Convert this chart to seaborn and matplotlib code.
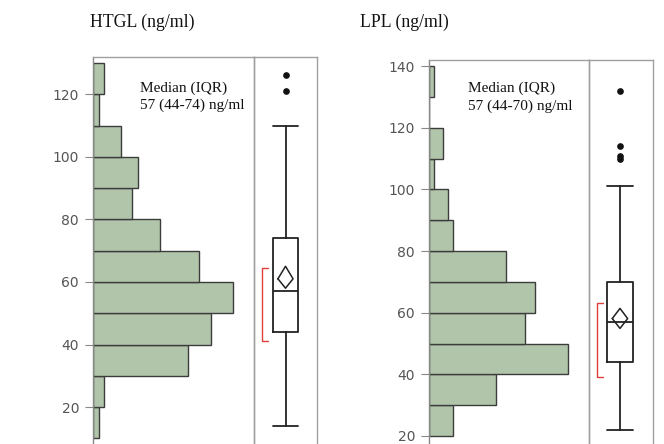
import matplotlib
matplotlib.use("Agg")
import matplotlib.pyplot as plt
import seaborn as sns
import numpy as np
import pandas as pd

# ---------------- data ----------------
htgl_edges = [10, 20, 30, 40, 50, 60, 70, 80, 90, 100, 110, 120, 130]
htgl_counts = [1, 2, 17, 21, 25, 19, 12, 7, 8, 5, 1, 2]
htgl_box = dict(whislo=14, q1=44, med=57, q3=74, whishi=110, fliers=[121, 126])
htgl_mean = 61
htgl_ci = [58, 65]
htgl_shortest = [41, 64.5]

lpl_edges = [20, 30, 40, 50, 60, 70, 80, 90, 100, 110, 120, 130, 140]
lpl_counts = [5, 14, 29, 20, 22, 16, 5, 4, 1, 3, 0, 1]
lpl_box = dict(whislo=22, q1=44, med=57, q3=70, whishi=101, fliers=[110, 111, 114, 132])
lpl_mean = 58.1
lpl_ci = [54.9, 61.4]
lpl_shortest = [39, 63]

titles = ["HTGL (ng/ml)", "LPL (ng/ml)"]
notes = [["Median (IQR)", "57 (44-74) ng/ml"], ["Median (IQR)", "57 (44-70) ng/ml"]]
yticks_htgl = [20, 40, 60, 80, 100, 120]
yticks_lpl = [20, 40, 60, 80, 100, 120, 140]

# ---------------- style ----------------
sns.set_style("white")
plt.rcParams['font.family'] = ['DejaVu Sans']

W, H = 664, 444
fig = plt.figure(figsize=(W / 100, H / 100), dpi=100)

BAR_FILL = "#b1c5ab"
BAR_EDGE = "#3c3c3c"
FRAME = "#a0a0a0"
TICKC = "#555555"
SERIF = "Liberation Serif"


def px_axes(x0, y0, x1, y1):
    return fig.add_axes([x0 / W, 1 - y1 / H, (x1 - x0) / W, (y1 - y0) / H])


panels = [
    dict(hist=(93, 57, 254, 444), box=(254, 57, 317, 444), ylim=(8.2, 131.9),
         edges=htgl_edges, counts=htgl_counts, xmax=161 / 5.6, stats=htgl_box,
         mean=htgl_mean, ci=htgl_ci, short=htgl_shortest, yticks=yticks_htgl,
         bx=0.0, title=titles[0], tx=142, note=notes[0], nx=(140 - 93) / 161,
         ny=[88, 105]),
    dict(hist=(429, 60, 589, 444), box=(589, 60, 653, 444), ylim=(17.4, 142.0),
         edges=lpl_edges, counts=lpl_counts, xmax=160 / 4.8, stats=lpl_box,
         mean=lpl_mean, ci=lpl_ci, short=lpl_shortest, yticks=yticks_lpl,
         bx=-0.016, title=titles[1], tx=404, note=notes[1], nx=(468 - 429) / 160,
         ny=[88, 106]),
]

for p in panels:
    axh = px_axes(*p["hist"])
    axb = px_axes(*p["box"])
    axb.set_facecolor("none")
    edges = list(p["edges"])
    centers = [(a + b) / 2 for a, b in zip(edges[:-1], edges[1:])]
    df = pd.DataFrame({"value": centers, "count": p["counts"]})
    sns.histplot(data=df, y="value", weights="count", bins=edges, ax=axh,
                 color=BAR_FILL, edgecolor=BAR_EDGE, linewidth=1.0, alpha=1.0)
    axh.set_xlim(0, p["xmax"])
    axh.set_ylim(*p["ylim"])
    axh.set_xlabel("")
    axh.set_ylabel("")
    axh.set_xticks([])
    axh.set_yticks(p["yticks"])
    axh.tick_params(axis="y", left=True, length=6, width=0.8, color="#888888",
                    labelsize=10, labelcolor=TICKC, pad=4)
    axh.spines["bottom"].set_visible(False)
    axh.spines["left"].set_color("#888888")
    axh.spines["top"].set_color(FRAME)
    axh.spines["right"].set_color(FRAME)
    for s in ["left", "top", "right"]:
        axh.spines[s].set_linewidth(1.0)

    # median note
    y0p = p["hist"][1]
    for line, ypx in zip(p["note"], p["ny"]):
        axh.text(p["nx"], 1 - (ypx - y0p) / (p["hist"][3] - y0p), line,
                 transform=axh.transAxes, ha="left", va="center",
                 fontsize=11, family=SERIF, color="#111111")

    # box plot
    st = dict(p["stats"])
    bx = p["bx"]
    axb.bxp([st], positions=[bx], widths=0.4, capwidths=0.4, showfliers=True,
            patch_artist=False,
            boxprops=dict(color="#222222", linewidth=1.3),
            whiskerprops=dict(color="#222222", linewidth=1.3),
            capprops=dict(color="#222222", linewidth=1.3),
            medianprops=dict(color="#222222", linewidth=1.3),
            flierprops=dict(marker="o", markerfacecolor="#111111",
                            markeredgecolor="#111111", markersize=3.8))
    hw = 0.12
    m = p["mean"]
    lo, hi = p["ci"]
    axb.plot([bx - hw, bx, bx + hw, bx, bx - hw], [m, hi, m, lo, m],
             color="#222222", linewidth=1.1)
    rx = -0.375
    slo, shi = p["short"]
    axb.plot([rx + 0.09, rx, rx, rx + 0.09], [slo, slo, shi, shi],
             color="#e0403a", linewidth=1.0)
    axb.set_xlim(-0.5, 0.5)
    axb.set_ylim(*p["ylim"])
    axb.set_xticks([])
    axb.set_yticks([])
    axb.spines["bottom"].set_visible(False)
    axb.spines["left"].set_visible(True)
    for s in ["left", "top", "right"]:
        axb.spines[s].set_color(FRAME)
        axb.spines[s].set_linewidth(1.0)

    fig.text(p["tx"] / W, 1 - 22 / H, p["title"], ha="center", va="center",
             fontsize=12.8, family=SERIF, color="#111111")

fig.savefig("out.png", dpi=100)
